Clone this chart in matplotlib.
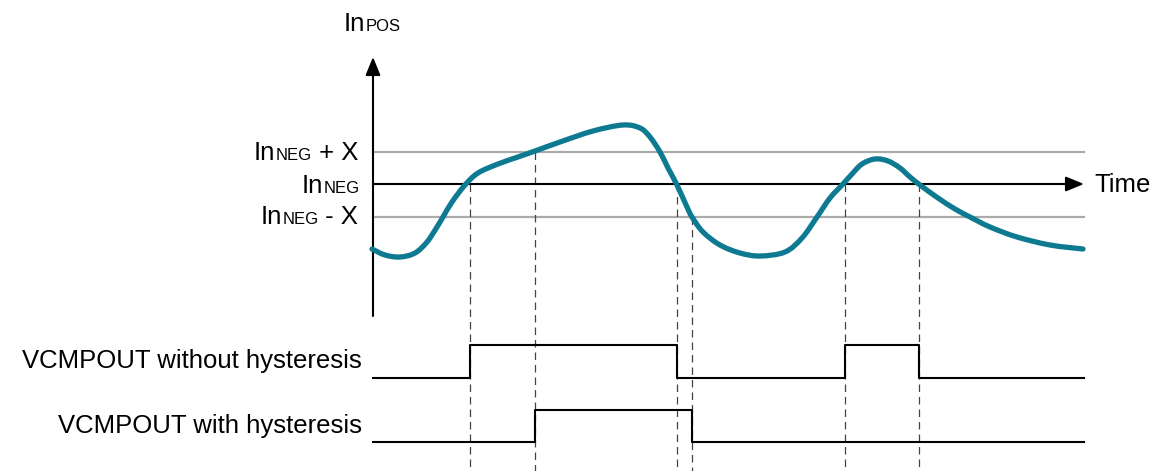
import matplotlib
matplotlib.use('Agg')
import matplotlib.pyplot as plt
from matplotlib.path import Path
from matplotlib.patches import PathPatch

plt.rcParams['font.family'] = ['Liberation Sans', 'DejaVu Sans']

# diagram drawn in its own pixel-like coordinates (y grows downward)
W, H = 1153, 471

# input signal In_POS
curve_x = [372, 385, 400, 415, 427, 437, 443, 452, 465, 478, 498, 518, 535, 560,
           593, 623, 640, 650, 660, 668, 677, 687, 692, 703, 720, 740, 760, 785,
           802, 817, 830, 843, 852, 862, 875, 888, 900, 910, 920, 938, 955, 970,
           990, 1017, 1050, 1083]
curve_y = [249, 255, 257, 253, 242, 227, 217, 202, 185, 173, 164, 157, 151, 142,
           131, 125, 128, 137, 152, 168, 185, 207, 217, 232, 245, 253, 256, 252,
           238, 217, 198, 184, 174, 164, 159, 161, 168, 177, 185, 198, 209, 217,
           227, 237, 245, 249]

# threshold levels
y_neg = 184
y_plus = 152
y_minus = 217
x_start, x_end = 373, 1084

# switching instants
t_edges = [470, 535, 677, 692, 845, 919]
t_start = [184, 152, 184, 217, 184, 184]

# output without hysteresis: levels between edges
out1_x = [373, 470, 677, 845, 919, 1084]
out1_level = [0, 1, 0, 1, 0]
out1_low, out1_high = 378, 345

# output with hysteresis
out2_x = [373, 535, 692, 1084]
out2_level = [0, 1, 0]
out2_low, out2_high = 442, 410

teal = '#0d7a92'
FS = 18.5
FS_SUB = 12

fig = plt.figure(figsize=(W / 100, H / 100), dpi=100)
ax = fig.add_axes([0, 0, 1, 1])
ax.set_xlim(0, W)
ax.set_ylim(H, 0)
ax.axis('off')

# threshold lines
ax.plot([x_start, x_end], [y_plus, y_plus], color='#ababab', lw=1.6, zorder=1)
ax.plot([x_start, x_end], [y_minus, y_minus], color='#ababab', lw=1.6, zorder=1)

# time axis and vertical axis with arrows
arrow = dict(arrowstyle='-|>,head_length=1.1,head_width=0.45',
             color='black', lw=1.5, shrinkA=0, shrinkB=0)
ax.annotate('', xy=(1084, y_neg), xytext=(x_start, y_neg), arrowprops=arrow, zorder=2)
ax.annotate('', xy=(373, 57), xytext=(373, 316), arrowprops=arrow, zorder=2)

# dashed guides
for xe, ys in zip(t_edges, t_start):
    ax.plot([xe, xe], [ys, H], color='#444444', lw=0.9, dashes=(6, 4), zorder=1)

# input curve: smooth bezier path through the read points
pts = list(zip(curve_x, curve_y))
verts = [pts[0]]
codes = [Path.MOVETO]
for i in range(len(pts) - 1):
    p0 = pts[max(i - 1, 0)]
    p1 = pts[i]
    p2 = pts[i + 1]
    p3 = pts[min(i + 2, len(pts) - 1)]
    c1 = (p1[0] + (p2[0] - p0[0]) / 6, p1[1] + (p2[1] - p0[1]) / 6)
    c2 = (p2[0] - (p3[0] - p1[0]) / 6, p2[1] - (p3[1] - p1[1]) / 6)
    verts += [c1, c2, p2]
    codes += [Path.CURVE4] * 3
ax.add_patch(PathPatch(Path(verts, codes), facecolor='none', edgecolor=teal,
                       lw=3.8, capstyle='round', joinstyle='round', zorder=3))


def digital(xs, levels, low, high):
    px, py = [], []
    for i, lv in enumerate(levels):
        y = high if lv else low
        px += [xs[i], xs[i + 1]]
        py += [y, y]
    ax.plot(px, py, color='black', lw=1.5, zorder=2)


digital(out1_x, out1_level, out1_low, out1_high)
digital(out2_x, out2_level, out2_low, out2_high)


# labels: "In" with a smaller suffix on the same baseline
def in_label(x, y, sub, tail=''):
    t = ax.text(x, y, 'In', fontsize=FS, va='baseline', ha='left')
    s = ax.annotate(sub, xy=(1, y), xycoords=(t, 'data'), fontsize=FS_SUB,
                    va='baseline', ha='left')
    if tail:
        ax.annotate(tail, xy=(1, y), xycoords=(s, 'data'), fontsize=FS,
                    va='baseline', ha='left')


in_label(344, 31, 'POS')
in_label(254, 160, 'NEG', ' + X')
in_label(302, 193, 'NEG')
in_label(261, 224, 'NEG', ' - X')

ax.text(1094, 192, 'Time', fontsize=FS, va='baseline', ha='left')
ax.text(362, 368, 'VCMPOUT without hysteresis', fontsize=FS, va='baseline', ha='right')
ax.text(362, 433, 'VCMPOUT with hysteresis', fontsize=FS, va='baseline', ha='right')

fig.savefig('out.png', dpi=100)
